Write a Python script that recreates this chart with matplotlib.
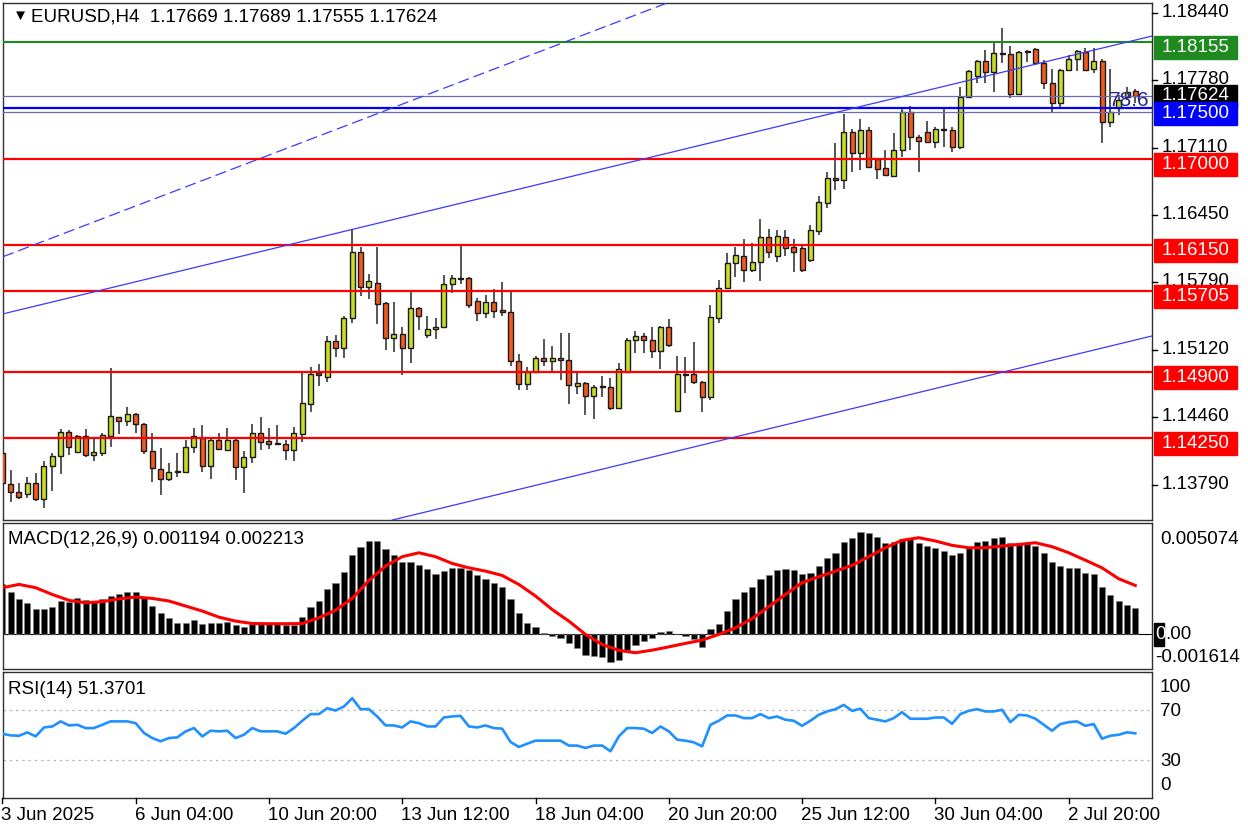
import numpy as np
import matplotlib.pyplot as plt
from matplotlib.patches import Rectangle

plt.rcParams['font.family'] = ['Liberation Sans', 'DejaVu Sans']

# EURUSD H4 candles (bar 0 = 3 Jun 12:00)
open_ = [1.14102, 1.13796, 1.13718, 1.13698, 1.13813, 1.13649, 1.13977, 1.14075, 1.14315, 1.14118,
         1.14273, 1.14085, 1.14108, 1.14273, 1.14456, 1.14424, 1.14489, 1.14391, 1.14128, 1.13944,
         1.13846, 1.13915, 1.13921, 1.14167, 1.14256, 1.13980, 1.14233, 1.14135, 1.14233, 1.13970,
         1.14062, 1.14305, 1.14223, 1.14200, 1.14194, 1.14135, 1.14289, 1.14588, 1.14896, 1.14851,
         1.15212, 1.15143, 1.15432, 1.16085, 1.15744, 1.15783, 1.15580, 1.15235, 1.15277, 1.15143,
         1.15537, 1.15268, 1.15327, 1.15350, 1.15767, 1.15823, 1.15832, 1.15603, 1.15481, 1.15596,
         1.15514, 1.15491, 1.15011, 1.14782, 1.14906, 1.15044, 1.15011, 1.15044, 1.15021, 1.14765,
         1.14798, 1.14670, 1.14765, 1.14759, 1.14545, 1.14906, 1.15218, 1.15258, 1.15218, 1.15113,
         1.15350, 1.14522, 1.14883, 1.14883, 1.14808, 1.14660, 1.15432, 1.15734, 1.15980, 1.16046,
         1.15908, 1.15990, 1.16233, 1.16046, 1.16233, 1.16135, 1.16125, 1.16007, 1.16295, 1.16568,
         1.16814, 1.16795, 1.17268, 1.17061, 1.17287, 1.17002, 1.16913, 1.16834, 1.17090, 1.17465,
         1.17218, 1.17268, 1.17169, 1.17297, 1.17287, 1.17120, 1.17612, 1.17819, 1.17967, 1.17859,
         1.18046, 1.18036, 1.17642, 1.18056, 1.18085, 1.17947, 1.17750, 1.17553, 1.17878, 1.17987,
         1.18056, 1.17888, 1.17967, 1.17366, 1.17504, 1.17612, 1.17669]
high = [1.14167, 1.13938, 1.13806, 1.13872, 1.13911, 1.14030, 1.14108, 1.14338, 1.14332, 1.14283,
        1.14338, 1.14240, 1.14299, 1.14939, 1.14463, 1.14562, 1.14502, 1.14404, 1.14299, 1.14151,
        1.14003, 1.14102, 1.14233, 1.14348, 1.14381, 1.14240, 1.14299, 1.14348, 1.14256, 1.14128,
        1.14391, 1.14463, 1.14348, 1.14381, 1.14233, 1.14364, 1.14890, 1.14956, 1.14982, 1.15258,
        1.15268, 1.15455, 1.16302, 1.16135, 1.15865, 1.16135, 1.15596, 1.15596, 1.15343, 1.15694,
        1.15540, 1.15458, 1.15432, 1.15859, 1.15859, 1.16144, 1.15842, 1.15629, 1.15662, 1.15717,
        1.15793, 1.15694, 1.15077, 1.14949, 1.15061, 1.15228, 1.15159, 1.15291, 1.15284, 1.14890,
        1.14808, 1.14775, 1.14864, 1.14841, 1.14995, 1.15235, 1.15310, 1.15291, 1.15343, 1.15356,
        1.15425, 1.15061, 1.15054, 1.15202, 1.14814, 1.15563, 1.15809, 1.16072, 1.16135, 1.16213,
        1.16174, 1.16410, 1.16312, 1.16302, 1.16302, 1.16213, 1.16154, 1.16351, 1.16637, 1.16874,
        1.17162, 1.17445, 1.17297, 1.17396, 1.17317, 1.17012, 1.17090, 1.17258, 1.17504, 1.17524,
        1.17238, 1.17376, 1.17317, 1.17504, 1.17317, 1.17711, 1.17879, 1.17977, 1.18075, 1.18154,
        1.18292, 1.18115, 1.18066, 1.18075, 1.18095, 1.17977, 1.17888, 1.17888, 1.18026, 1.18075,
        1.18095, 1.18095, 1.17987, 1.17888, 1.17632, 1.17711, 1.17689]
low = [1.13757, 1.13626, 1.13649, 1.13658, 1.13635, 1.13560, 1.13734, 1.13898, 1.14085, 1.14108,
       1.14062, 1.14026, 1.14075, 1.14167, 1.14289, 1.14371, 1.14305, 1.14095, 1.13816, 1.13691,
       1.13829, 1.13865, 1.13911, 1.14102, 1.13921, 1.13846, 1.14135, 1.14125, 1.13839, 1.13708,
       1.14010, 1.14135, 1.14144, 1.14184, 1.14036, 1.14030, 1.14217, 1.14512, 1.14765, 1.14808,
       1.15048, 1.15038, 1.15383, 1.15652, 1.15619, 1.15376, 1.15120, 1.15103, 1.14873, 1.14995,
       1.15317, 1.15235, 1.15225, 1.15343, 1.15685, 1.15767, 1.15530, 1.15405, 1.15432, 1.15432,
       1.15458, 1.14962, 1.14726, 1.14726, 1.14890, 1.14962, 1.14896, 1.14824, 1.14585, 1.14686,
       1.14479, 1.14440, 1.14660, 1.14529, 1.14535, 1.14896, 1.15087, 1.15087, 1.15038, 1.14929,
       1.15153, 1.14506, 1.14693, 1.14785, 1.14512, 1.14627, 1.15383, 1.15717, 1.15842, 1.15787,
       1.15888, 1.15803, 1.16026, 1.15987, 1.16046, 1.15888, 1.15888, 1.15987, 1.16253, 1.16519,
       1.16696, 1.16706, 1.16874, 1.16893, 1.16913, 1.16805, 1.16834, 1.16824, 1.17021, 1.17090,
       1.16874, 1.17159, 1.17110, 1.17120, 1.17071, 1.17100, 1.17603, 1.17750, 1.17750, 1.17662,
       1.17947, 1.17603, 1.17632, 1.17957, 1.17928, 1.17691, 1.17455, 1.17514, 1.17869, 1.17869,
       1.17869, 1.17849, 1.17159, 1.17317, 1.17435, 1.17583, 1.17555]
close = [1.13806, 1.13718, 1.13675, 1.13813, 1.13649, 1.13977, 1.14075, 1.14315, 1.14161, 1.14273,
         1.14085, 1.14112, 1.14283, 1.14470, 1.14424, 1.14489, 1.14387, 1.14128, 1.13954, 1.13846,
         1.13915, 1.13928, 1.14167, 1.14273, 1.13980, 1.14233, 1.14144, 1.14233, 1.13970, 1.14062,
         1.14305, 1.14217, 1.14190, 1.14194, 1.14135, 1.14299, 1.14594, 1.14883, 1.14870, 1.15212,
         1.15143, 1.15432, 1.16088, 1.15744, 1.15800, 1.15573, 1.15235, 1.15277, 1.15143, 1.15530,
         1.15458, 1.15327, 1.15350, 1.15767, 1.15832, 1.15832, 1.15563, 1.15481, 1.15596, 1.15507,
         1.15491, 1.15011, 1.14782, 1.14906, 1.15044, 1.15011, 1.15044, 1.15021, 1.14775, 1.14798,
         1.14670, 1.14759, 1.14755, 1.14545, 1.14929, 1.15218, 1.15258, 1.15218, 1.15113, 1.15350,
         1.15169, 1.14880, 1.14873, 1.14801, 1.14660, 1.15442, 1.15727, 1.15980, 1.16056, 1.15908,
         1.15990, 1.16230, 1.16085, 1.16243, 1.16125, 1.16085, 1.15908, 1.16302, 1.16581, 1.16814,
         1.16795, 1.17268, 1.17061, 1.17287, 1.16923, 1.16903, 1.16844, 1.17090, 1.17465, 1.17218,
         1.17179, 1.17169, 1.17297, 1.17287, 1.17120, 1.17612, 1.17869, 1.17967, 1.17859, 1.18046,
         1.18036, 1.17642, 1.18056, 1.18066, 1.17947, 1.17750, 1.17553, 1.17878, 1.17987, 1.18066,
         1.17878, 1.17967, 1.17366, 1.17465, 1.17583, 1.17662, 1.17624]

# MACD(12,26,9) histogram and signal line
macd = [0.00229, 0.00191, 0.00157, 0.00142, 0.00115, 0.00115, 0.00124, 0.00150, 0.00145, 0.00162,
        0.00153, 0.00150, 0.00157, 0.00171, 0.00180, 0.00191, 0.00191, 0.00165, 0.00127, 0.00093,
        0.00070, 0.00050, 0.00050, 0.00061, 0.00046, 0.00050, 0.00050, 0.00053, 0.00038, 0.00032,
        0.00044, 0.00044, 0.00043, 0.00043, 0.00041, 0.00041, 0.00076, 0.00124, 0.00150, 0.00203,
        0.00234, 0.00282, 0.00362, 0.00399, 0.00423, 0.00423, 0.00389, 0.00363, 0.00328, 0.00328,
        0.00313, 0.00295, 0.00276, 0.00287, 0.00302, 0.00302, 0.00292, 0.00267, 0.00249, 0.00234,
        0.00214, 0.00157, 0.00093, 0.00050, 0.00032, 0.00005, -0.00008, -0.00018, -0.00041, -0.00064,
        -0.00095, -0.00102, -0.00107, -0.00130, -0.00118, -0.00075, -0.00053, -0.00034, -0.00021, 0.00008,
        0.00012, -0.00003, -0.00011, -0.00026, -0.00061, 0.00020, 0.00043, 0.00104, 0.00157, 0.00191,
        0.00214, 0.00252, 0.00267, 0.00290, 0.00295, 0.00290, 0.00272, 0.00280, 0.00310, 0.00348,
        0.00371, 0.00420, 0.00440, 0.00467, 0.00463, 0.00444, 0.00417, 0.00420, 0.00432, 0.00440,
        0.00414, 0.00403, 0.00391, 0.00380, 0.00360, 0.00371, 0.00394, 0.00420, 0.00424, 0.00440,
        0.00444, 0.00414, 0.00414, 0.00409, 0.00403, 0.00371, 0.00327, 0.00310, 0.00302, 0.00299,
        0.00279, 0.00272, 0.00215, 0.00176, 0.00150, 0.00130, 0.001194]
sig_bars = list(range(0, 137, 2))
signal = [0.00211, 0.00226, 0.00211, 0.00180, 0.00153, 0.00142, 0.00147, 0.00160, 0.00168, 0.00162,
          0.00150, 0.00127, 0.00104, 0.00076, 0.00058, 0.00047, 0.00046, 0.00046, 0.00047, 0.00073,
          0.00108, 0.00162, 0.00244, 0.00310, 0.00353, 0.00371, 0.00353, 0.00322, 0.00302, 0.00287,
          0.00267, 0.00226, 0.00173, 0.00111, 0.00058, -0.00003, -0.00049, -0.00076, -0.00087, -0.00075,
          -0.00060, -0.00044, -0.00029, -0.00003, 0.00027, 0.00069, 0.00124, 0.00180, 0.00234, 0.00261,
          0.00287, 0.00313, 0.00353, 0.00394, 0.00428, 0.00440, 0.00425, 0.00405, 0.00394, 0.00394,
          0.00402, 0.00409, 0.00417, 0.00399, 0.00371, 0.00337, 0.00302, 0.00252, 0.002213]

# RSI(14)
rsi = [51.0, 49.7, 49.4, 52.1, 48.9, 56.0, 56.8, 60.8, 57.6, 58.1,
       55.5, 55.5, 58.1, 60.8, 60.8, 60.8, 59.4, 51.6, 47.6, 45.0,
       47.6, 48.1, 52.9, 55.5, 48.9, 53.4, 52.9, 53.4, 47.6, 50.2,
       55.5, 52.9, 52.9, 52.9, 51.0, 55.5, 61.3, 66.6, 66.6, 71.3,
       69.4, 72.6, 79.2, 70.5, 70.5, 64.7, 57.6, 57.6, 56.0, 60.8,
       59.4, 56.8, 56.8, 63.9, 64.7, 65.2, 56.8, 56.0, 57.6, 55.5,
       55.0, 44.5, 40.5, 43.1, 45.5, 45.5, 45.5, 45.5, 41.6, 41.6,
       39.7, 41.6, 41.6, 37.1, 48.9, 55.5, 55.5, 55.0, 51.6, 56.8,
       52.9, 46.3, 45.5, 44.2, 41.0, 58.1, 61.3, 65.5, 65.5, 63.4,
       63.4, 66.6, 63.4, 64.7, 62.1, 61.3, 57.3, 61.3, 66.0, 68.7,
       70.5, 73.9, 69.2, 70.8, 63.4, 62.1, 60.8, 63.4, 68.1, 62.9,
       62.9, 62.9, 63.9, 63.9, 58.9, 66.6, 69.2, 70.5, 68.7, 68.7,
       70.0, 60.2, 66.0, 65.5, 62.9, 58.1, 53.4, 58.7, 60.2, 60.8,
       57.3, 58.7, 47.1, 49.4, 50.2, 52.1, 51.3701]

# drawn objects
support_levels = [1.17000, 1.16150, 1.15705, 1.14900, 1.14250]
resistance_level = 1.18155
blue_level = 1.17500
fib_levels = [1.17622, 1.17468]
channel_up = [(0.05, 1.15475), (138.0, 1.18213)]
channel_low = [(47.7, 1.13462), (138.0, 1.15258)]
dashed_line = [(0.08, 1.16039), (79.8, 1.18539)]

price_ticks = [1.18440, 1.17780, 1.17110, 1.16450, 1.15790, 1.15120, 1.14460, 1.13790]
date_bars = [0, 16, 32, 48, 64, 80, 96, 112, 128]
date_labels = ['3 Jun 2025', '6 Jun 04:00', '10 Jun 20:00', '13 Jun 12:00', '18 Jun 04:00',
               '20 Jun 20:00', '25 Jun 12:00', '30 Jun 04:00', '2 Jul 20:00']

W, H = 1248, 832
fig = plt.figure(figsize=(12.48, 8.32), dpi=100)
fs = 13.5

def px_axes(x0, y0, x1, y1):
    return fig.add_axes([x0 / W, 1 - y1 / H, (x1 - x0) / W, (y1 - y0) / H])

ax = px_axes(3, 3, 1152, 520)
ax_m = px_axes(3, 523, 1152, 669)
ax_r = px_axes(3, 672, 1152, 798)
for a in (ax, ax_m, ax_r):
    a.set_xlim(0.08, 138.0)
    a.set_xticks([])
    a.set_yticks([])
    for s in a.spines.values():
        s.set_color('#303030')
        s.set_linewidth(1)

# main price pane
ax.set_ylim(1.134448, 1.185385)
n = len(close)
x = np.arange(n)
o = np.array(open_)
c = np.array(close)
up = c >= o
ax.vlines(x, low, high, color='#383838', lw=1.2, zorder=2)
bottoms = np.minimum(o, c)
heights = np.maximum(np.abs(c - o), 0.00001)
ax.bar(x[up], heights[up], bottom=bottoms[up], width=0.6, color='#c8dc28',
       edgecolor='#1a1a1a', lw=1, zorder=3)
ax.bar(x[~up], heights[~up], bottom=bottoms[~up], width=0.6, color='#f05a1e',
       edgecolor='#1a1a1a', lw=1, zorder=3)

for lv in support_levels:
    ax.axhline(lv, color='#ff0000', lw=1.6, zorder=4)
ax.axhline(resistance_level, color='#1f8a1f', lw=1.5, zorder=4)
ax.axhline(blue_level, color='#0000ff', lw=1.6, zorder=4)
for lv in fib_levels:
    ax.axhline(lv, color='#6a6ab8', lw=0.9, zorder=4)
ax.axline(channel_up[0], channel_up[1], color='#3a3aff', lw=0.9, zorder=4)
ax.axline(channel_low[0], channel_low[1], color='#3a3aff', lw=0.9, zorder=4)
ax.axline(dashed_line[0], dashed_line[1], color='#3a3aff', lw=0.9,
          linestyle=(0, (9, 4)), zorder=4)
ax.text(137.7, 1.17575, '78.6', color='#28288c', fontsize=15, ha='right', va='center', zorder=5)

# MACD pane
ax_m.set_ylim(-0.001614, 0.005074)
ax_m.bar(x, macd, width=0.74, color='black', edgecolor='#808080', lw=0.4, zorder=2)
ax_m.axhline(0, color='black', lw=0.8, zorder=1)
ax_m.plot(sig_bars, signal, color='#ff0000', lw=2.2, solid_joinstyle='round', zorder=3)

# RSI pane
ax_r.set_ylim(0, 100)
for lv in (70, 30):
    ax_r.axhline(lv, color='#b8b8b8', lw=0.9, linestyle=(0, (2, 3)))
ax_r.plot(x, rsi, color='#1e90ff', lw=1.9, zorder=3)

# overlay in pixel coordinates for labels outside the panes
ov = fig.add_axes([0, 0, 1, 1])
ov.set_xlim(0, W)
ov.set_ylim(H, 0)
ov.axis('off')
ov.patch.set_visible(False)
ov.set_zorder(10)

def ypx(a, v):
    return H - a.transData.transform((0, v))[1]

def xpx(a, i):
    return a.transData.transform((i, 0))[0]

for v in price_ticks:
    yy = ypx(ax, v)
    ov.plot([1152, 1157], [yy, yy], color='black', lw=1)
    ov.text(1162, yy, f'{v:.5f}', fontsize=fs, va='center', ha='left')

def box_label(v, color, top_off=-6, text_off=5.5):
    yy = ypx(ax, v)
    ov.add_patch(Rectangle((1154, yy + top_off), 83, 23, color=color, zorder=11))
    ov.text(1162, yy + text_off, f'{v:.5f}', fontsize=fs, va='center', ha='left',
            color='white', zorder=12)

box_label(resistance_level, '#1f8a1f')
box_label(close[-1], 'black', top_off=-11, text_off=0)
box_label(blue_level, '#0000ff')
for lv in support_levels:
    box_label(lv, '#ff0000')

# header texts
ov.text(13, 16, '\u25bc', fontsize=11, va='center', ha='left')
ov.text(31, 17, f'EURUSD,H4  {open_[-1]:.5f} {high[-1]:.5f} {low[-1]:.5f} {close[-1]:.5f}',
        fontsize=fs, va='center', ha='left')
ov.text(8, 540, f'MACD(12,26,9) {macd[-1]:.6f} {signal[-1]:.6f}', fontsize=fs, va='center', ha='left')
ov.text(8, 690, f'RSI(14) {rsi[-1]:.4f}', fontsize=fs, va='center', ha='left')

# MACD and RSI scale labels
ov.text(1160, ypx(ax_m, 0.005074) + 17, '0.005074', fontsize=fs, va='center', ha='left')
y0 = ypx(ax_m, 0)
ov.add_patch(Rectangle((1154, y0 - 11), 10, 23, color='black', zorder=11))
ov.text(1155, y0 + 1, '0', fontsize=fs, va='center', ha='left', color='white', zorder=12)
ov.text(1165, y0 + 1, '.00', fontsize=fs, va='center', ha='left')
ov.text(1155, ypx(ax_m, -0.001614) - 12, '-0.001614', fontsize=fs, va='center', ha='left')
for lv, dy in [(100, 15), (70, 2), (30, 1), (0, -13)]:
    ov.text(1160, ypx(ax_r, lv) + dy, str(lv), fontsize=fs, va='center', ha='left')

# time axis
for b, lab in zip(date_bars, date_labels):
    xx = xpx(ax_r, b)
    ov.plot([xx, xx], [798, 803], color='black', lw=1)
    ov.text(xx - 1, 815, lab, fontsize=fs, va='center', ha='left')

fig.savefig('out.png', dpi=100)
